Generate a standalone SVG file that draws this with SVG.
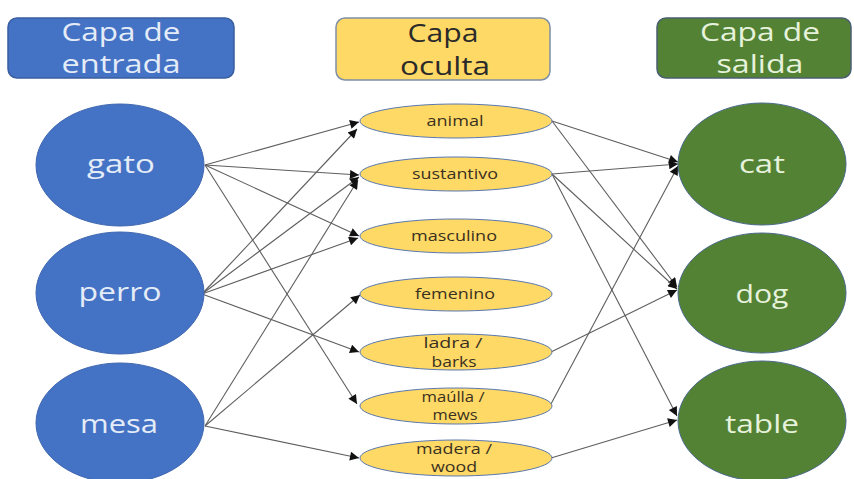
<svg xmlns="http://www.w3.org/2000/svg" width="854" height="479" viewBox="0 0 854 479">
<style>
.hdr-in{fill:#4472C4;stroke:#3A5F9F;stroke-width:1.5}
.hdr-hid{fill:#FFD966;stroke:#7F8FA6;stroke-width:1.5}
.hdr-out{fill:#548235;stroke:#4A6070;stroke-width:1.5}
.in{fill:#4472C4;stroke:#3F67B0;stroke-width:1}
.hid{fill:#FFD966;stroke:#5A78B0;stroke-width:1}
.out{fill:#548235;stroke:#4A6A8A;stroke-width:1}
text{font-family:"Open Sans","Noto Sans","Liberation Sans",sans-serif;text-anchor:middle}
.th{font-size:25px}
.tl{fill:#E4ECF8}
.tg{fill:#E6F2DC}
.td{fill:#2A2A2A}
.tn{font-size:25px}
.ts{font-size:14px;fill:#3A3020}
.e{stroke:#5E5E5E;stroke-width:1.1;fill:none;marker-end:url(#ah)}
</style>
<defs>
<marker id="ah" viewBox="0 0 10 10" refX="10" refY="5" markerWidth="12" markerHeight="9" markerUnits="userSpaceOnUse" orient="auto">
<path d="M0,0 L10,5 L0,10 z" fill="#111"/>
</marker>
</defs>
<rect width="854" height="479" fill="#fff"/>
<g id="header-input">
<rect class="hdr-in" x="8" y="18" width="226" height="60" rx="9"/>
<text class="th tl" x="121" y="41" textLength="119" lengthAdjust="spacingAndGlyphs">Capa de</text>
<text class="th tl" x="121" y="73" textLength="119" lengthAdjust="spacingAndGlyphs">entrada</text>
</g>
<g id="header-hidden">
<rect class="hdr-hid" x="336" y="18" width="214" height="62" rx="9"/>
<text class="th td" x="443" y="42" textLength="71" lengthAdjust="spacingAndGlyphs">Capa</text>
<text class="th td" x="445" y="75" textLength="90" lengthAdjust="spacingAndGlyphs">oculta</text>
</g>
<g id="header-output">
<rect class="hdr-out" x="657" y="18" width="194" height="60" rx="9"/>
<text class="th tg" x="760" y="41" textLength="120" lengthAdjust="spacingAndGlyphs">Capa de</text>
<text class="th tg" x="760" y="73" textLength="87" lengthAdjust="spacingAndGlyphs">salida</text>
</g>
<g id="connectors">
<line class="e" x1="205" y1="165" x2="359" y2="122"/>
<line class="e" x1="205" y1="165" x2="359" y2="175"/>
<line class="e" x1="205" y1="165" x2="359" y2="236"/>
<line class="e" x1="205" y1="165" x2="357" y2="404"/>
<line class="e" x1="202" y1="294" x2="357" y2="129"/>
<line class="e" x1="202" y1="294" x2="359" y2="177"/>
<line class="e" x1="202" y1="294" x2="358" y2="238"/>
<line class="e" x1="202" y1="294" x2="359" y2="352"/>
<line class="e" x1="205" y1="426" x2="358" y2="180"/>
<line class="e" x1="205" y1="426" x2="360" y2="295"/>
<line class="e" x1="205" y1="426" x2="359" y2="458"/>
<line class="e" x1="552" y1="121" x2="678" y2="162"/>
<line class="e" x1="552" y1="121" x2="677" y2="287"/>
<line class="e" x1="552" y1="174" x2="678" y2="164"/>
<line class="e" x1="552" y1="174" x2="677" y2="289"/>
<line class="e" x1="552" y1="174" x2="677" y2="416"/>
<line class="e" x1="551" y1="352" x2="677" y2="290"/>
<line class="e" x1="551" y1="404" x2="678" y2="166"/>
<line class="e" x1="551" y1="458" x2="677" y2="420"/>
</g>
<g id="gato"><ellipse class="in" cx="120" cy="165" rx="84" ry="61"/><text class="tn tl" x="121" y="173" textLength="68" lengthAdjust="spacingAndGlyphs">gato</text></g>
<g id="perro"><ellipse class="in" cx="120" cy="293" rx="84" ry="61"/><text class="tn tl" x="120" y="301" textLength="83" lengthAdjust="spacingAndGlyphs">perro</text></g>
<g id="mesa"><ellipse class="in" cx="120" cy="423" rx="84" ry="60"/><text class="tn tl" x="119" y="433" textLength="78" lengthAdjust="spacingAndGlyphs">mesa</text></g>
<g id="animal"><ellipse class="hid" cx="456" cy="121" rx="96" ry="17"/><text class="ts" x="455" y="126" textLength="57" lengthAdjust="spacingAndGlyphs">animal</text></g>
<g id="sustantivo"><ellipse class="hid" cx="456" cy="174" rx="96" ry="17"/><text class="ts" x="455" y="179" textLength="86" lengthAdjust="spacingAndGlyphs">sustantivo</text></g>
<g id="masculino"><ellipse class="hid" cx="456" cy="236" rx="96" ry="17"/><text class="ts" x="454" y="241" textLength="86" lengthAdjust="spacingAndGlyphs">masculino</text></g>
<g id="femenino"><ellipse class="hid" cx="456" cy="294" rx="96" ry="17"/><text class="ts" x="455" y="299" textLength="80" lengthAdjust="spacingAndGlyphs">femenino</text></g>
<g id="ladra"><ellipse class="hid" cx="456" cy="352" rx="96" ry="18"/><text class="ts" x="453" y="348" textLength="59" lengthAdjust="spacingAndGlyphs">ladra /</text><text class="ts" x="454" y="367" textLength="45" lengthAdjust="spacingAndGlyphs">barks</text></g>
<g id="maulla"><ellipse class="hid" cx="456" cy="406" rx="96" ry="18"/><text class="ts" x="453" y="402" textLength="63" lengthAdjust="spacingAndGlyphs">maúlla /</text><text class="ts" x="455" y="420" textLength="45" lengthAdjust="spacingAndGlyphs">mews</text></g>
<g id="madera"><ellipse class="hid" cx="456" cy="458" rx="96" ry="18"/><text class="ts" x="454" y="454" textLength="76" lengthAdjust="spacingAndGlyphs">madera /</text><text class="ts" x="454" y="472" textLength="46" lengthAdjust="spacingAndGlyphs">wood</text></g>
<g id="cat"><ellipse class="out" cx="762" cy="164" rx="84" ry="61"/><text class="tn tg" x="762" y="173" textLength="46" lengthAdjust="spacingAndGlyphs">cat</text></g>
<g id="dog"><ellipse class="out" cx="762" cy="293" rx="84" ry="60"/><text class="tn tg" x="762" y="303" textLength="53" lengthAdjust="spacingAndGlyphs">dog</text></g>
<g id="table"><ellipse class="out" cx="762" cy="421" rx="84" ry="60"/><text class="tn tg" x="762" y="433" textLength="74" lengthAdjust="spacingAndGlyphs">table</text></g>
</svg>
